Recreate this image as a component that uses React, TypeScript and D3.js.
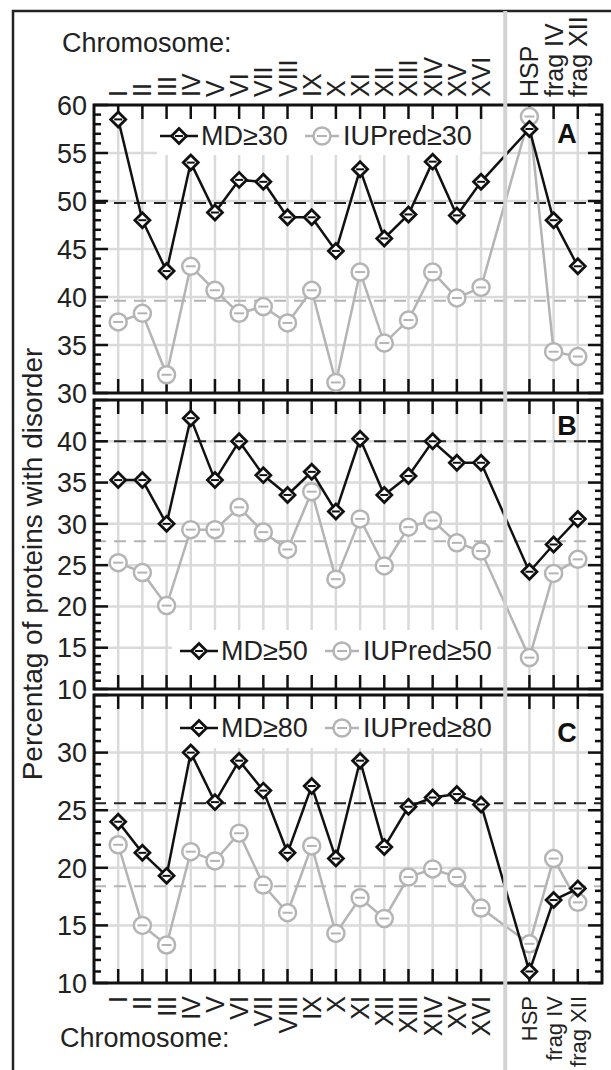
import { useEffect, useRef } from 'react'
import * as d3 from 'd3'

const chromosomes = ['I', 'II', 'III', 'IV', 'V', 'VI', 'VII', 'VIII', 'IX', 'X', 'XI', 'XII', 'XIII', 'XIV', 'XV', 'XVI']
const extras = ['HSP', 'frag IV', 'frag XII']
const categories = [...chromosomes, 'sep', ...extras]
const pointKeys = [...chromosomes, ...extras]

// values for each chromosome, then HSP, frag IV, frag XII
const md30 = [58.5, 48.0, 42.7, 54.0, 48.8, 52.2, 52.0, 48.3, 48.3, 44.8, 53.3, 46.1, 48.6, 54.1, 48.5, 52.0, 57.5, 48.0, 43.2]
const iu30 = [37.4, 38.3, 31.9, 43.2, 40.7, 38.3, 39.0, 37.3, 40.7, 31.1, 42.6, 35.2, 37.6, 42.6, 39.9, 41.0, 58.8, 34.3, 33.8]
const md50 = [35.3, 35.3, 30.0, 42.8, 35.3, 40.0, 35.9, 33.5, 36.3, 31.5, 40.3, 33.5, 35.8, 40.0, 37.4, 37.4, 24.2, 27.5, 30.6]
const iu50 = [25.3, 24.1, 20.1, 29.3, 29.3, 32.0, 29.0, 26.9, 33.9, 23.3, 30.6, 24.9, 29.6, 30.4, 27.7, 26.7, 13.8, 24.0, 25.7]
const md80 = [24.0, 21.3, 19.3, 30.0, 25.7, 29.3, 26.7, 21.3, 27.1, 20.8, 29.3, 21.8, 25.3, 26.1, 26.4, 25.5, 11.0, 17.2, 18.2]
const iu80 = [22.0, 15.0, 13.3, 21.4, 20.6, 23.0, 18.5, 16.1, 21.9, 14.3, 17.4, 15.6, 19.2, 19.9, 19.2, 16.5, 13.4, 20.8, 17.0]

const mdAvg = [49.8, 40.0, 25.6]
const iuAvg = [39.6, 27.9, 18.4]
const yDomains = [[30, 60], [10, 45], [10, 35]]
const yLabelTicks = [[30, 35, 40, 45, 50, 55, 60], [10, 15, 20, 25, 30, 35, 40], [10, 15, 20, 25, 30]]
const thresholds = ['30', '50', '80']
const panelLetters = ['A', 'B', 'C']

const W = 611
const H = 1070
const FONT = '"Liberation Sans", Arial, sans-serif'
const GRAY = '#b4b4b4'
const GRID = '#dadada'

export default function App() {
  const svgRef = useRef<SVGSVGElement>(null)

  useEffect(() => {
    if (!svgRef.current) return
    const svg = d3.select(svgRef.current)
    svg.selectAll('*').remove()

    const left = 94
    const right = 602
    const x = d3.scalePoint<string>().domain(categories).range([left, right]).padding(1)

    // panel frames: top, bottom, legend box, legend baseline
    const panels = [
      { top: 105, bottom: 393, box: [157, 106, 480, 155], legendY: 145, letterY: 143 },
      { top: 400, bottom: 689, box: [172, 630, 497, 688], legendY: 660, letterY: 435 },
      { top: 695, bottom: 983, box: [172, 696, 497, 748], legendY: 737, letterY: 742 },
    ]
    const series = [[md30, iu30], [md50, iu50], [md80, iu80]]

    // outer frame
    svg.append('path')
      .attr('d', `M13,${H} V11 H${W}`)
      .attr('fill', 'none')
      .attr('stroke', '#222')
      .attr('stroke-width', 2.5)

    const diamond = (g: any, cx: number, cy: number) => {
      g.append('path')
        .attr('d', `M${cx},${cy - 7.5} L${cx + 7.5},${cy} L${cx},${cy + 7.5} L${cx - 7.5},${cy} Z`)
        .attr('fill', '#fff')
        .attr('stroke', '#111')
        .attr('stroke-width', 2.8)
      g.append('line')
        .attr('x1', cx - 4).attr('x2', cx + 4)
        .attr('y1', cy).attr('y2', cy)
        .attr('stroke', '#111').attr('stroke-width', 2)
    }
    const circle = (g: any, cx: number, cy: number) => {
      g.append('circle')
        .attr('cx', cx).attr('cy', cy).attr('r', 8.5)
        .attr('fill', '#fff')
        .attr('stroke', GRAY)
        .attr('stroke-width', 2.5)
      g.append('line')
        .attr('x1', cx - 5).attr('x2', cx + 5)
        .attr('y1', cy).attr('y2', cy)
        .attr('stroke', GRAY).attr('stroke-width', 2)
    }

    panels.forEach((p, pi) => {
      const g = svg.append('g')
      const y = d3.scaleLinear().domain(yDomains[pi]).range([p.bottom, p.top])
      const [d0, d1] = yDomains[pi]

      // grid
      d3.range(d0 + 5, d1, 5).forEach(v => {
        g.append('line')
          .attr('x1', left).attr('x2', right)
          .attr('y1', y(v)).attr('y2', y(v))
          .attr('stroke', GRID).attr('stroke-width', 2.5)
      })
      pointKeys.forEach(k => {
        g.append('line')
          .attr('x1', x(k)!).attr('x2', x(k)!)
          .attr('y1', p.top).attr('y2', p.bottom)
          .attr('stroke', GRID).attr('stroke-width', 2.5)
      })

      // legend background
      g.append('rect')
        .attr('x', p.box[0]).attr('y', p.box[1])
        .attr('width', p.box[2] - p.box[0]).attr('height', p.box[3] - p.box[1])
        .attr('fill', '#fff')

      // average lines
      g.append('line')
        .attr('x1', left).attr('x2', right)
        .attr('y1', y(mdAvg[pi])).attr('y2', y(mdAvg[pi]))
        .attr('stroke', '#222').attr('stroke-width', 2).attr('stroke-dasharray', '12,8')
      g.append('line')
        .attr('x1', left).attr('x2', right)
        .attr('y1', y(iuAvg[pi])).attr('y2', y(iuAvg[pi]))
        .attr('stroke', GRAY).attr('stroke-width', 2).attr('stroke-dasharray', '12,8')

      // y ticks (left and right, inward)
      d3.range(d0, d1 + 0.01, 1).forEach(v => {
        const major = v % 5 === 0
        const len = major ? 14 : 7
        g.append('line')
          .attr('x1', left).attr('x2', left + len)
          .attr('y1', y(v)).attr('y2', y(v))
          .attr('stroke', '#111').attr('stroke-width', 2.5)
        g.append('line')
          .attr('x1', right).attr('x2', right - len)
          .attr('y1', y(v)).attr('y2', y(v))
          .attr('stroke', '#111').attr('stroke-width', 2.5)
      })
      yLabelTicks[pi].forEach(v => {
        g.append('text')
          .attr('x', 87).attr('y', y(v))
          .attr('dy', '0.36em')
          .attr('text-anchor', 'end')
          .attr('font-family', FONT)
          .attr('font-size', 27)
          .attr('fill', '#222')
          .text(v)
      })

      // x ticks
      pointKeys.forEach(k => {
        g.append('line')
          .attr('x1', x(k)!).attr('x2', x(k)!)
          .attr('y1', p.top).attr('y2', p.top + 14)
          .attr('stroke', '#111').attr('stroke-width', 2.5)
        g.append('line')
          .attr('x1', x(k)!).attr('x2', x(k)!)
          .attr('y1', p.bottom).attr('y2', p.bottom - 14)
          .attr('stroke', '#111').attr('stroke-width', 2.5)
      })

      // frame
      g.append('rect')
        .attr('x', left).attr('y', p.top)
        .attr('width', right - left).attr('height', p.bottom - p.top)
        .attr('fill', 'none')
        .attr('stroke', '#111').attr('stroke-width', 3)

      // data lines
      const [md, iu] = series[pi]
      const line = d3.line<number>()
        .x((_, i) => x(pointKeys[i])!)
        .y(d => y(d))
      g.append('path')
        .attr('d', line(iu)!)
        .attr('fill', 'none').attr('stroke', GRAY).attr('stroke-width', 2.5)
      iu.forEach((v, i) => circle(g, x(pointKeys[i])!, y(v)))
      g.append('path')
        .attr('d', line(md)!)
        .attr('fill', 'none').attr('stroke', '#111').attr('stroke-width', 2.5)
      md.forEach((v, i) => diamond(g, x(pointKeys[i])!, y(v)))

      // legend
      const ly = p.legendY - 9
      const lx0 = pi === 0 ? 160 : 180
      const lx1 = pi === 0 ? 305 : 325
      g.append('line')
        .attr('x1', lx0).attr('x2', lx0 + 38).attr('y1', ly).attr('y2', ly)
        .attr('stroke', '#111').attr('stroke-width', 2.5)
      diamond(g, lx0 + 19, ly)
      g.append('text')
        .attr('x', lx0 + 41).attr('y', p.legendY)
        .attr('font-family', FONT).attr('font-size', 27).attr('fill', '#222')
        .text(`MD≥${thresholds[pi]}`)
      g.append('line')
        .attr('x1', lx1).attr('x2', lx1 + 34).attr('y1', ly).attr('y2', ly)
        .attr('stroke', GRAY).attr('stroke-width', 2.5)
      circle(g, lx1 + 17, ly)
      g.append('text')
        .attr('x', lx1 + 38).attr('y', p.legendY)
        .attr('font-family', FONT).attr('font-size', 27).attr('fill', '#222')
        .text(`IUPred≥${thresholds[pi]}`)

      // panel letter
      g.append('text')
        .attr('x', 567).attr('y', p.letterY)
        .attr('text-anchor', 'middle')
        .attr('font-family', FONT).attr('font-size', 27).attr('font-weight', 'bold')
        .attr('fill', '#111')
        .text(panelLetters[pi])
    })

    // category labels, rotated
    pointKeys.forEach(k => {
      const isExtra = extras.includes(k)
      svg.append('text')
        .attr('transform', `translate(${x(k)},97) rotate(-90)`)
        .attr('dy', '0.36em')
        .attr('text-anchor', 'start')
        .attr('font-family', FONT).attr('font-size', 25).attr('fill', '#222')
        .text(k)
      svg.append('text')
        .attr('transform', `translate(${x(k)},996) rotate(-90)`)
        .attr('dy', '0.36em')
        .attr('text-anchor', 'end')
        .attr('font-family', FONT).attr('font-size', isExtra ? 22 : 25).attr('fill', '#222')
        .text(k)
    })
    svg.append('text')
      .attr('x', 62).attr('y', 52)
      .attr('font-family', FONT).attr('font-size', 27).attr('fill', '#222')
      .text('Chromosome:')
    svg.append('text')
      .attr('x', 60).attr('y', 1047)
      .attr('font-family', FONT).attr('font-size', 27).attr('fill', '#222')
      .text('Chromosome:')

    // y axis title
    svg.append('text')
      .attr('transform', 'translate(42,564) rotate(-90)')
      .attr('text-anchor', 'middle')
      .attr('font-family', FONT).attr('font-size', 28).attr('fill', '#222')
      .text('Percentag of proteins with disorder')

    // separator between chromosomes and extra sets
    svg.append('line')
      .attr('x1', x('sep')!).attr('x2', x('sep')!)
      .attr('y1', 11).attr('y2', H)
      .attr('stroke', '#d2d2d2').attr('stroke-width', 4)
  }, [])

  return (
    <svg
      ref={svgRef}
      width={W}
      height={H}
      style={{ position: 'absolute', left: 0, top: 0, background: '#fff' }}
    />
  )
}
